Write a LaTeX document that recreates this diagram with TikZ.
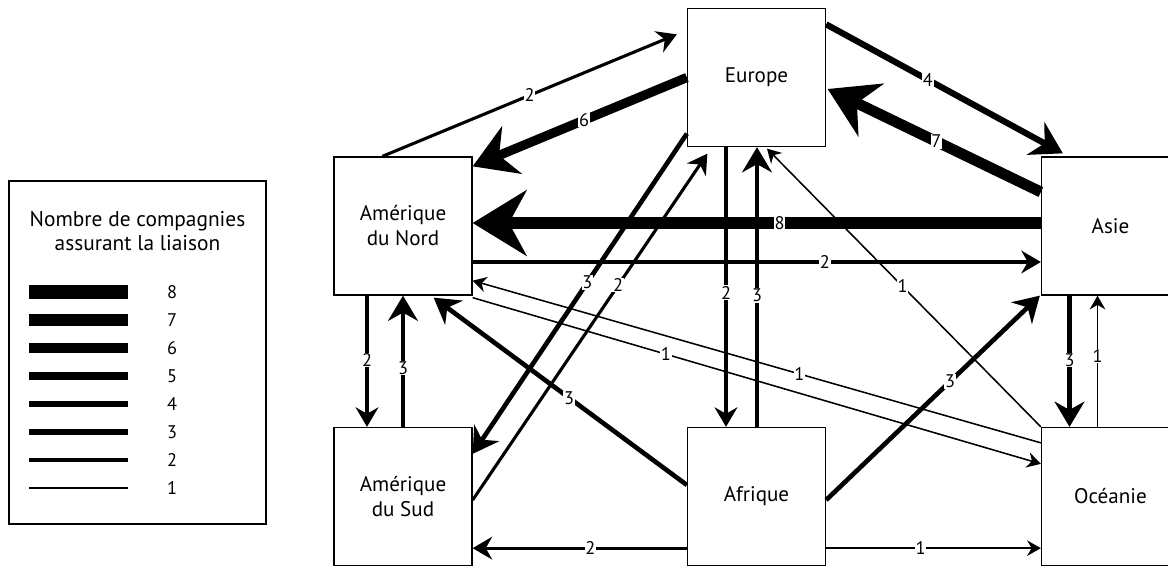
\documentclass[tikz,border=0pt]{standalone}
\usepackage{fontspec}
\setmainfont{PT Sans}
\usetikzlibrary{arrows.meta,calc}

\tikzset{
  region/.style={draw, line width=0.9pt, minimum size=3.45cm, align=center,
    font=\fontsize{15}{17.8}\selectfont},
  flux/.style={line width=#1*1.1pt,
    -{Stealth[length=5.7pt 3.7, width=6pt 4.6, inset=1.9pt 1.2]}},
  num/.style={fill=white, inner sep=0.5pt, font=\fontsize{13}{15}\selectfont},
}

\begin{document}
\begin{tikzpicture}[x=0.025cm, y=-0.025cm]
  \useasboundingbox (0,0) rectangle (1168,566);

  % Legend
  \draw[line width=0.8pt] (9,181) rectangle (266,524);
  \node[align=center, font=\fontsize{15.2}{17}\selectfont] (titre) at (137.5,231)
    {Nombre de compagnies\\assurant la liaison};
  \foreach \n [count=\i from 0] in {8,7,...,1} {
    \draw[line width=\n*1.15pt+0.3pt] (29,{292+28*\i}) -- (128,{292+28*\i});
    \node[font=\fontsize{13}{15}\selectfont] (leg\n) at (172,{292+28*\i}) {\n};
  }

  % Regions
  \node[region] (eur) at (756.5,77.5) {Europe};
  \node[region] (amn) at (403,226) {Amérique\\du Nord};
  \node[region] (asie) at (1110.5,226) {Asie};
  \node[region] (ams) at (403,496.5) {Amérique\\du Sud};
  \node[region] (afr) at (756.5,496.5) {Afrique};
  \node[region] (oce) at (1110.5,496.5) {Océanie};

  % Links
  \draw[flux=2] ($(amn.north west)+(49,0)$) -- node[num] {2} ($(eur.north west)+(-10,26.5)$);
  \draw[flux=6] (eur.west) -- node[num,pos=.48] {6} ($(amn.north east)+(0,10)$);
  \draw[flux=8] ($(asie.west)+(0,-3)$) -- node[num,pos=.46] {8} ($(amn.east)+(0,-3)$);
  \draw[flux=2] ($(amn.east)+(0,36)$) -- node[num,pos=.62] {2} ($(asie.west)+(0,36)$);
  \draw[flux=4] ($(eur.north east)+(0,16.5)$) -- node[num,pos=.43] {4} ($(asie.north west)+(22,-3)$);
  \draw[flux=7] ($(asie.west)+(0,-34)$) -- node[num,pos=.49] {7} ($(eur.east)+(1.5,11.5)$);
  \draw[flux=3] ($(eur.south west)+(0,-13.5)$) -- node[num,pos=.465] {3} ($(ams.north east)+(0,27)$);
  \draw[flux=2] ($(ams.east)+(0,3.5)$) -- node[num,pos=.62] {2} ($(eur.south west)+(20.5,6.5)$);
  \draw[flux=2] ($(eur.south)+(-30.5,0)$) -- node[num,pos=.52] {2} ($(afr.north)+(-30.5,0)$);
  \draw[flux=3] ($(afr.north)+(0.5,0)$) -- node[num,pos=.47] {3} ($(eur.south)+(0.5,0)$);
  \draw[flux=1] (oce.north west) -- node[num,pos=.505] {1} ($(eur.south)+(10.5,1.5)$);
  \draw[flux=2] ($(amn.south)+(-36,0)$) -- node[num,pos=.49] {2} ($(ams.north)+(-36,0)$);
  \draw[flux=3] (ams.north) -- node[num,pos=.45] {3} (amn.south);
  \draw[flux=3] ($(afr.west)+(0,-11.5)$) -- node[num,pos=.465] {3} ($(amn.south east)+(-39,2)$);
  \draw[flux=1] ($(oce.north west)+(0,16)$) -- node[num,pos=.425] {1} ($(amn.south east)+(0,-15)$);
  \draw[flux=1] ($(amn.south east)+(0,2)$) -- node[num,pos=.34] {1} ($(oce.north west)+(0,37)$);
  \draw[flux=2] ($(afr.south west)+(0,-18)$) -- node[num,pos=.45] {2} ($(ams.south east)+(0,-18)$);
  \draw[flux=1] ($(afr.south east)+(0,-18)$) -- node[num,pos=.44] {1} ($(oce.south west)+(0,-18)$);
  \draw[flux=3] ($(afr.east)+(0,3.5)$) -- node[num,pos=.58] {3} ($(asie.south west)+(-1,0)$);
  \draw[flux=3] ($(asie.south)+(-41,0)$) -- node[num,pos=.49] {3} ($(oce.north)+(-41,0)$);
  \draw[flux=1] ($(oce.north)+(-13,0)$) -- node[num,pos=.54] {1} ($(asie.south)+(-13,0)$);
\end{tikzpicture}
\end{document}
